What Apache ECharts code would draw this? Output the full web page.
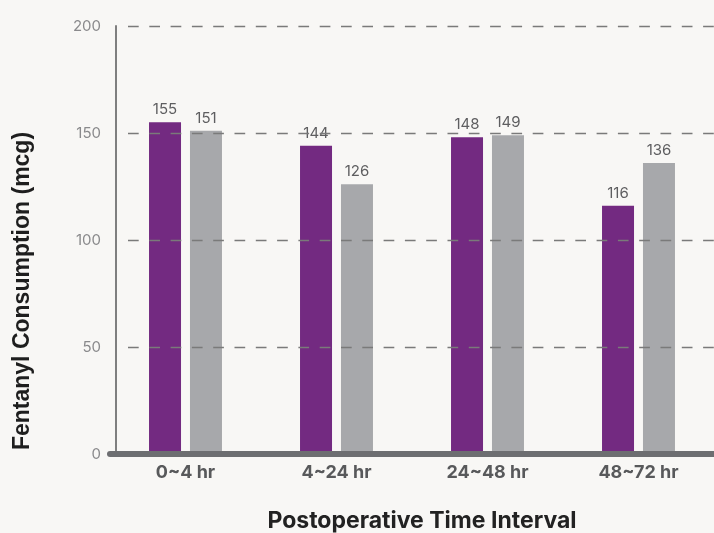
<!DOCTYPE html>
<html>
<head>
<meta charset="utf-8">
<script src="https://cdn.jsdelivr.net/npm/echarts@6/dist/echarts.min.js"></script>
<style>
  html, body { margin: 0; padding: 0; background: #f8f7f5; }
  #chart { width: 714px; height: 533px; }
</style>
</head>
<body>
<div id="chart"></div>
<script>
// Fentanyl consumption per postoperative interval, two groups
const categories = ['0~4 hr', '4~24 hr', '24~48 hr', '48~72 hr'];
const groupA = [155, 144, 148, 116];
const groupB = [151, 126, 149, 136];
const yTicks = { min: 0, max: 200, interval: 50 };

const chart = echarts.init(document.getElementById('chart'), null, { renderer: 'canvas' });

const valueLabel = {
  show: true,
  position: 'top',
  distance: 5,
  color: '#5e5e60',
  fontSize: 15,
  fontFamily: 'Inter'
};

chart.setOption({
  backgroundColor: '#f8f7f5',
  animation: false,
  grid: [
    { left: 110, right: 0, top: 26, bottom: 79, outerBoundsMode: 'none', containLabel: false },
    // dashed guide lines start a little right of the value axis
    { left: 128, right: 0, top: 26, bottom: 79, outerBoundsMode: 'none', containLabel: false }
  ],
  xAxis: [
    {
      type: 'category',
      gridIndex: 0,
      data: categories,
      z: 20,
      axisLine: { lineStyle: { color: '#6d6e71', width: 6 } },
      axisTick: { show: false },
      axisLabel: {
        margin: 10,
        color: '#58595b',
        fontSize: 18,
        fontWeight: 'bold',
        fontFamily: 'Inter'
      },
      name: 'Postoperative Time Interval',
      nameLocation: 'middle',
      nameGap: 56,
      nameTextStyle: {
        color: '#222222',
        fontSize: 23,
        fontWeight: 'bold',
        fontFamily: 'Inter',
        padding: [0, 0, 0, 20]
      }
    },
    { type: 'value', gridIndex: 1, show: false, min: 0, max: 1 }
  ],
  yAxis: [
    {
      type: 'value',
      gridIndex: 0,
      min: yTicks.min,
      max: yTicks.max,
      interval: yTicks.interval,
      offset: -6,
      axisLine: { show: true, lineStyle: { color: '#7f7f7f', width: 2 } },
      axisTick: { show: false },
      splitLine: { show: false },
      axisLabel: {
        margin: 15,
        color: '#8a8a8c',
        fontSize: 15,
        fontFamily: 'Inter'
      }
    },
    {
      type: 'value',
      gridIndex: 1,
      min: yTicks.min,
      max: yTicks.max,
      interval: yTicks.interval,
      z: 10,
      axisLine: { show: false },
      axisTick: { show: false },
      axisLabel: { show: false },
      splitLine: {
        show: true,
        lineStyle: { color: '#7a7a7a', width: 1.4, type: [10.7, 10.6] }
      }
    }
  ],
  graphic: [
    {
      type: 'text',
      x: 23,
      y: 291,
      rotation: Math.PI / 2,
      style: {
        text: 'Fentanyl Consumption (mcg)',
        fill: '#1e1e1e',
        font: 'bold 23px "Liberation Sans", Arial, sans-serif',
        align: 'center',
        verticalAlign: 'middle'
      }
    }
  ],
  series: [
    {
      name: 'Group A',
      type: 'bar',
      xAxisIndex: 0,
      yAxisIndex: 0,
      data: groupA,
      barWidth: 32,
      barGap: '28%',
      itemStyle: { color: '#732a81' },
      label: valueLabel
    },
    {
      name: 'Group B',
      type: 'bar',
      xAxisIndex: 0,
      yAxisIndex: 0,
      data: groupB,
      barWidth: 32,
      barGap: '28%',
      itemStyle: { color: '#a7a8ab' },
      label: valueLabel
    }
  ]
});
</script>
</body>
</html>
